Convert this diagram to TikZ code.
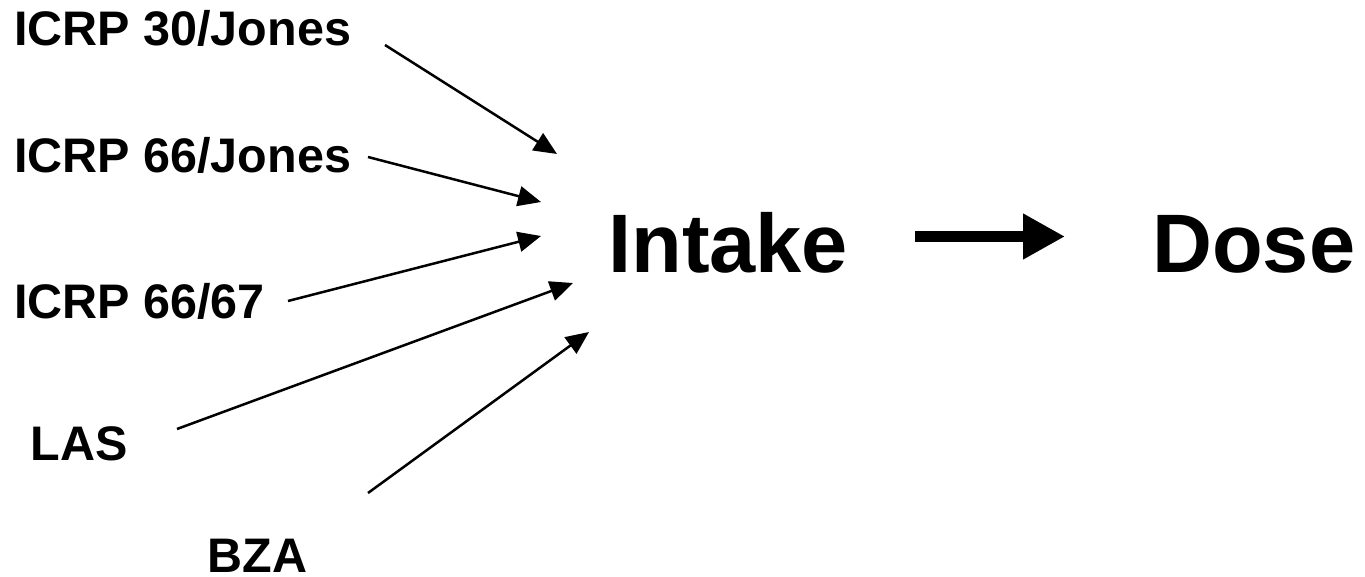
\documentclass[tikz,border=0pt]{standalone}
\usepackage{fontspec}
\setmainfont{Liberation Sans}
\usetikzlibrary{arrows.meta}

\begin{document}
\begin{tikzpicture}[x=1pt,y=-1pt,->,>={Triangle[length=23pt,width=20pt]},
    line width=2.5pt,
    src node/.style={anchor=base west,inner sep=0pt,font=\fontsize{48.5}{58}\selectfont\bfseries},
    main node/.style={anchor=base west,inner sep=0pt,font=\fontsize{83}{100}\selectfont\bfseries}]

\useasboundingbox (0,0) rectangle (1365,577);

\node[src node] (icrp30) at (13,46) {ICRP 30/Jones};
\node[src node] (icrp66j) at (13,172.5) {ICRP 66/Jones};
\node[src node] (icrp6667) at (13,318) {ICRP 66/67};
\node[src node] (las) at (29.5,460) {LAS};
\node[src node,text depth=0pt] (bza) at (206.5,572) {BZA};

\node[main node] (intake) at (607,273) {Intake};
\node[main node] (dose) at (1151,273) {Dose};

% tails and heads of the model arrows
\coordinate (t1) at (385,45);  \coordinate (h1) at (557,154);
\coordinate (t2) at (368,157); \coordinate (h2) at (541,202);
\coordinate (t3) at (288,301); \coordinate (h3) at (541,236);
\coordinate (t4) at (177,429); \coordinate (h4) at (573,283);
\coordinate (t5) at (368,493); \coordinate (h5) at (589,332);

\path
(t1) edge (h1)
(t2) edge (h2)
(t3) edge (h3)
(t4) edge (h4)
(t5) edge (h5)
;

\draw[line width=11pt,-{Triangle[length=42pt,width=43pt]}]
  ([shift={(66,-36.5)}]intake.base east) -- ([shift={(-86,-36.5)}]dose.base west);

\end{tikzpicture}
\end{document}
